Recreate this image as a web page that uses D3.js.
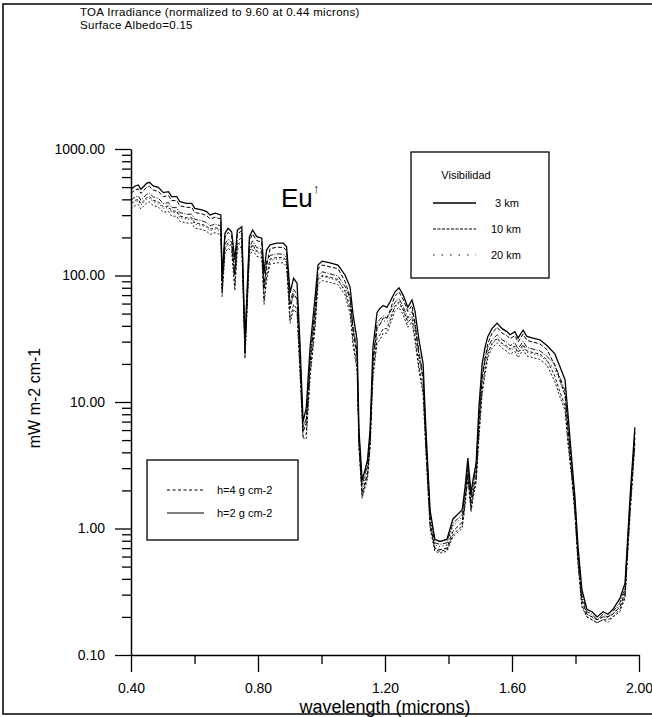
<!DOCTYPE html>
<html>
<head>
<meta charset="utf-8">
<script src="https://cdn.jsdelivr.net/npm/d3@7"></script>
<style>
  body { margin: 0; background: #fff; }
  svg { display: block; font-family: "Liberation Sans", Arial, sans-serif; }
</style>
</head>
<body>
<svg id="chart"></svg>
<script>
const svgWidth = 652;
const svgHeight = 717;

// wavelength grid (microns)
const wavelength = [0.400,0.404,0.413,0.423,0.431,0.440,0.449,0.458,0.470,0.486,
 0.502,0.518,0.528,0.544,0.554,0.575,0.591,0.601,0.623,0.638,
 0.649,0.665,0.683,0.687,0.696,0.706,0.717,0.727,0.735,0.749,
 0.759,0.773,0.783,0.796,0.812,0.819,0.827,0.838,0.859,0.880,
 0.890,0.901,0.912,0.923,0.932,0.942,0.952,0.964,0.980,0.989,
 1.002,1.027,1.052,1.074,1.090,1.099,1.112,1.118,1.128,1.137,
 1.145,1.153,1.162,1.175,1.184,1.194,1.206,1.216,1.231,1.244,
 1.257,1.272,1.285,1.294,1.307,1.320,1.329,1.342,1.357,1.373,
 1.395,1.414,1.430,1.443,1.452,1.461,1.471,1.477,1.487,1.496,
 1.506,1.515,1.524,1.537,1.553,1.569,1.584,1.594,1.609,1.619,
 1.635,1.647,1.666,1.688,1.710,1.735,1.751,1.767,1.776,1.789,
 1.798,1.808,1.820,1.836,1.852,1.868,1.887,1.902,1.918,1.940,
 1.956,1.972,1.987];

// upward radiance, visibility 3 km, h=2 g cm-2
const vis3h2 = [480,489,510,520,480,505,535,545,510,497,
 452,460,420,420,383,372,372,339,330,320,
 301,311,301,97,216,236,222,133,229,243,
 31,203,229,203,197,104,159,175,180,180,
 169,73,95,87,30,7,9,27,68,121,
 130,126,121,101,81,50,31,6,2.4,2.9,
 3.5,6,27,51,55,58,56,62,74,80,
 70,56,64,53,31,20,6,1.4,0.82,0.79,
 0.82,1.19,1.3,1.4,2.1,3.6,1.9,2.4,3.3,9.2,
 20,27,33,38,42,38,36,34,36,32,
 37,33,32,31,28,24,19,15,8.2,3.3,
 1.8,0.72,0.33,0.23,0.22,0.2,0.22,0.21,0.23,0.28,
 0.37,1.8,6.3];

// visibility 3 km, h=4 g cm-2
const vis3h4 = [446,455,474,484,446,470,498,507,474,462,
 420,428,391,391,356,346,346,315,307,298,
 280,289,280,90,201,219,206,100,213,226,
 29,189,213,189,183,78,119,163,167,167,
 157,55,71,65,22.5,5.8,6.8,20,51,113,
 121,117,113,90,68,37.5,23,4.8,1.9,2.3,
 2.8,4.8,20,38,41,46,46,53,69,74,
 65,52,58,42,23,15,4.6,1.12,0.7,0.68,
 0.7,0.95,1.04,1.12,1.7,2.9,1.5,1.9,2.6,6.9,
 15,22,29,35,39,35,33.5,31.6,33.5,29.8,
 34.4,30.7,29.8,28.8,26,19.5,15,11.3,6.2,2.6,
 1.44,0.58,0.27,0.21,0.2,0.19,0.2,0.2,0.21,0.24,
 0.31,1.5,5.2];

// visibility 10 km, h=2
const vis10h2 = [394,401,418,426,394,414,439,447,418,408,
 371,377,344,344,314,305,305,278,271,262,
 247,255,247,80,177,194,182,109,188,199,
 25,166,188,166,162,85,130,144,148,148,
 139,60,78,71,24.6,6.3,7.4,22,56,99,
 107,103,99,82,66,41,25,5.5,2.2,2.7,
 3.2,5.5,22,42,45,48,46,51,61,66,
 57,46,52,43,25,16.4,5.3,1.29,0.77,0.75,
 0.77,1.1,1.2,1.29,1.9,3.3,1.75,2.2,3.0,7.5,
 16.4,22,27,31,34,31,29.5,27.9,29.5,26.2,
 30.3,27,26.2,25.4,23,19.7,15.6,12.3,6.7,3.0,
 1.66,0.66,0.3,0.22,0.21,0.19,0.21,0.2,0.22,0.26,
 0.34,1.65,5.8];

// visibility 10 km, h=4
const vis10h4 = [370,377,393,400,370,389,412,420,393,383,
 348,354,323,323,295,286,286,261,254,246,
 232,239,232,75,166,182,171,82,176,187,
 24,156,176,156,152,64,99,135,139,139,
 130,45,59,54,18.6,5.3,5.6,16.7,42,93,
 100,97,93,75,55,31,19,4.5,1.8,2.2,
 2.6,4.5,16.7,32,34,38,38,44,57,62,
 54,43,46,34,19,12.4,4.2,1.05,0.68,0.66,
 0.68,0.89,0.98,1.05,1.55,2.6,1.4,1.8,2.4,5.7,
 12.4,18,24,29,32,29,27.7,26.2,27.7,24.6,
 28.5,25.4,24.6,23.9,21.6,16,12,9.3,5.1,2.5,
 1.35,0.54,0.25,0.2,0.19,0.18,0.19,0.19,0.2,0.23,
 0.29,1.35,4.8];

// visibility 20 km, h=2
const vis20h2 = [360,367,383,390,360,379,401,409,383,373,
 339,345,315,315,287,279,279,254,248,240,
 226,233,226,73,162,177,167,101,172,182,
 23,152,172,152,148,79,121,131,135,135,
 127,55,72,66,22.8,6.0,6.8,20.5,52,91,
 98,95,91,76,61,38,23.6,5.3,2.1,2.55,
 3.1,5.3,20.5,39,42,44,43,47,56,60,
 53,42,48,40,23.6,15.2,5.0,1.23,0.74,0.72,
 0.74,1.05,1.14,1.23,1.85,3.1,1.67,2.1,2.9,7.0,
 15.2,20.5,25,28.5,31.5,28.5,27,25.5,27,24,
 27.8,24.8,24,23.3,21,18.2,14.4,11.4,6.2,2.9,
 1.58,0.63,0.29,0.21,0.2,0.19,0.2,0.2,0.21,0.25,
 0.33,1.6,5.6];

// visibility 20 km, h=4
const vis20h4 = [336,342,357,364,336,354,375,382,357,348,
 316,322,294,294,268,260,260,237,231,224,
 211,218,211,68,151,165,155,76,160,170,
 22,142,160,142,138,59,91,123,126,126,
 118,42,54,50,17.1,5.2,5.1,15.4,39,85,
 91,88,85,70,50,28.5,17.7,4.3,1.73,2.1,
 2.5,4.3,15.4,29,31,35,35,41,52,56,
 49,39,43,31,17.7,11.4,3.9,1.0,0.66,0.64,
 0.66,0.86,0.94,1.0,1.5,2.5,1.35,1.7,2.3,5.2,
 11.4,16.5,22.5,26.6,29.4,26.6,25.2,23.8,25.2,22.4,
 25.9,23.1,22.4,21.7,19.6,14.5,11,8.6,4.7,2.4,
 1.3,0.52,0.24,0.2,0.19,0.18,0.19,0.18,0.2,0.22,
 0.28,1.3,4.6];

const xTicks = [0.4, 0.8, 1.2, 1.6, 2.0];
const xMinorTicks = [0.6, 1.0, 1.4, 1.8];
const yTicks = [0.1, 1, 10, 100, 1000];
const visLabels = ["3 km", "10 km", "20 km"];
const h2oLabels = ["h=4 g cm-2", "h=2 g cm-2"];
const headerLines = ["TOA  Irradiance (normalized to 9.60 at 0.44 microns)", "Surface Albedo=0.15"];

// series list: values + line dash
const series = [
	{values: vis20h4, dash: "2,2", w: 0.9},
	{values: vis20h2, dash: "1,2.5", w: 1},
	{values: vis10h4, dash: "3,2", w: 0.9},
	{values: vis10h2, dash: "5,1.5,1,1.5", w: 0.9},
	{values: vis3h4, dash: "4,2", w: 1},
	{values: vis3h2, dash: null, w: 1.3}
];

const svg = d3.select("#chart")
	.attr("width", svgWidth)
	.attr("height", svgHeight);

// outer frame (right edge falls off the page, as in the scan)
svg.append("rect")
	.attr("x", 3).attr("y", 4)
	.attr("width", 660).attr("height", 710)
	.attr("fill", "none").attr("stroke", "#000").attr("stroke-width", 1.5);

svg.selectAll(".header")
	.data(headerLines)
	.enter().append("text")
	.attr("x", 80)
	.attr("y", (d, i) => 16 + i * 13)
	.attr("font-size", "11.5px")
	.attr("letter-spacing", "0.3px")
	.text(d => d);

const xScale = d3.scaleLinear().domain([0.4, 2.0]).range([131, 639]);
const yScale = d3.scaleLog().domain([0.1, 1000]).range([655, 149]);

// minor log ticks
let yMinor = [];
[0.1, 1, 10, 100].forEach(dec => { for (let k = 2; k <= 9; k++) yMinor.push(dec * k); });

svg.append("g")
	.attr("transform", "translate(131,0)")
	.call(d3.axisLeft(yScale).tickValues(yMinor).tickSize(9).tickFormat(""))
	.call(g => g.select(".domain").remove())
	.selectAll("line").attr("stroke-width", 1.3);

svg.append("g")
	.attr("transform", "translate(131,0)")
	.call(d3.axisLeft(yScale).tickValues(yTicks).tickSize(16).tickSizeOuter(0).tickPadding(10)
		.tickFormat(d3.format(".2f")))
	.call(g => g.select(".domain").attr("stroke-width", 1.5))
	.call(g => g.selectAll("line").attr("stroke-width", 1.3))
	.call(g => g.selectAll("text").attr("font-size", "14px").attr("font-family", "Liberation Sans, Arial, sans-serif"));

svg.append("g")
	.attr("transform", "translate(0,655)")
	.call(d3.axisBottom(xScale).tickValues(xMinorTicks).tickSize(9).tickFormat(""))
	.call(g => g.select(".domain").remove())
	.selectAll("line").attr("stroke-width", 1.3);

svg.append("g")
	.attr("transform", "translate(0,655)")
	.call(d3.axisBottom(xScale).tickValues(xTicks).tickSize(17).tickSizeOuter(0).tickPadding(11)
		.tickFormat(d3.format(".2f")))
	.call(g => g.select(".domain").attr("stroke-width", 1.5))
	.call(g => g.selectAll("line").attr("stroke-width", 1.3))
	.call(g => g.selectAll("text").attr("font-size", "14px").attr("font-family", "Liberation Sans, Arial, sans-serif"));

// axis titles
svg.append("text")
	.attr("x", 385).attr("y", 713)
	.attr("text-anchor", "middle")
	.attr("font-size", "18px")
	.text("wavelength (microns)");

svg.append("text")
	.attr("transform", "rotate(-90)")
	.attr("x", -398).attr("y", 40)
	.attr("text-anchor", "middle")
	.attr("font-size", "16px")
	.text("mW m-2 cm-1");

// curves
const line = d3.line()
	.x((d, i) => xScale(wavelength[i]))
	.y(d => yScale(d));

svg.append("g").selectAll("path")
	.data(series)
	.enter().append("path")
	.attr("d", d => line(d.values))
	.attr("fill", "none")
	.attr("stroke", "#000")
	.attr("stroke-width", d => d.w)
	.attr("stroke-dasharray", d => d.dash);

// Eu with upward arrow
svg.append("text")
	.attr("x", 281).attr("y", 207)
	.attr("font-size", "26px")
	.text("Eu");
svg.append("text")
	.attr("x", 313).attr("y", 193)
	.attr("font-size", "13px")
	.text("\u2191");

// legend: visibility
const leg1 = svg.append("g");
leg1.append("rect")
	.attr("x", 411).attr("y", 152).attr("width", 138).attr("height", 126)
	.attr("fill", "#fff").attr("stroke", "#000").attr("stroke-width", 1.3);
leg1.append("text")
	.attr("x", 466).attr("y", 179)
	.attr("text-anchor", "middle").attr("font-size", "11px")
	.text("Visibilidad");
const visDash = [null, "3,1.5", "1.5,7"];
visLabels.forEach((lab, i) => {
	let y = 203 + i * 26;
	leg1.append("line")
		.attr("x1", 433).attr("x2", 476).attr("y1", y).attr("y2", y)
		.attr("stroke", "#000").attr("stroke-width", i == 0 ? 1.3 : 1)
		.attr("stroke-dasharray", visDash[i]);
	leg1.append("text")
		.attr("x", i == 0 ? 495 : 491).attr("y", y + 4)
		.attr("font-size", "11px")
		.text(lab);
});

// legend: water vapour
const leg2 = svg.append("g");
leg2.append("rect")
	.attr("x", 147).attr("y", 460).attr("width", 151).attr("height", 80)
	.attr("fill", "#fff").attr("stroke", "#000").attr("stroke-width", 1.3);
const h2oDash = ["3,2.5", null];
h2oLabels.forEach((lab, i) => {
	let y = 490 + i * 23;
	leg2.append("line")
		.attr("x1", 167).attr("x2", 204).attr("y1", y).attr("y2", y)
		.attr("stroke", "#000").attr("stroke-width", 1.1)
		.attr("stroke-dasharray", h2oDash[i]);
	leg2.append("text")
		.attr("x", 217).attr("y", y + 4)
		.attr("font-size", "11px")
		.text(lab);
});
</script>
</body>
</html>
